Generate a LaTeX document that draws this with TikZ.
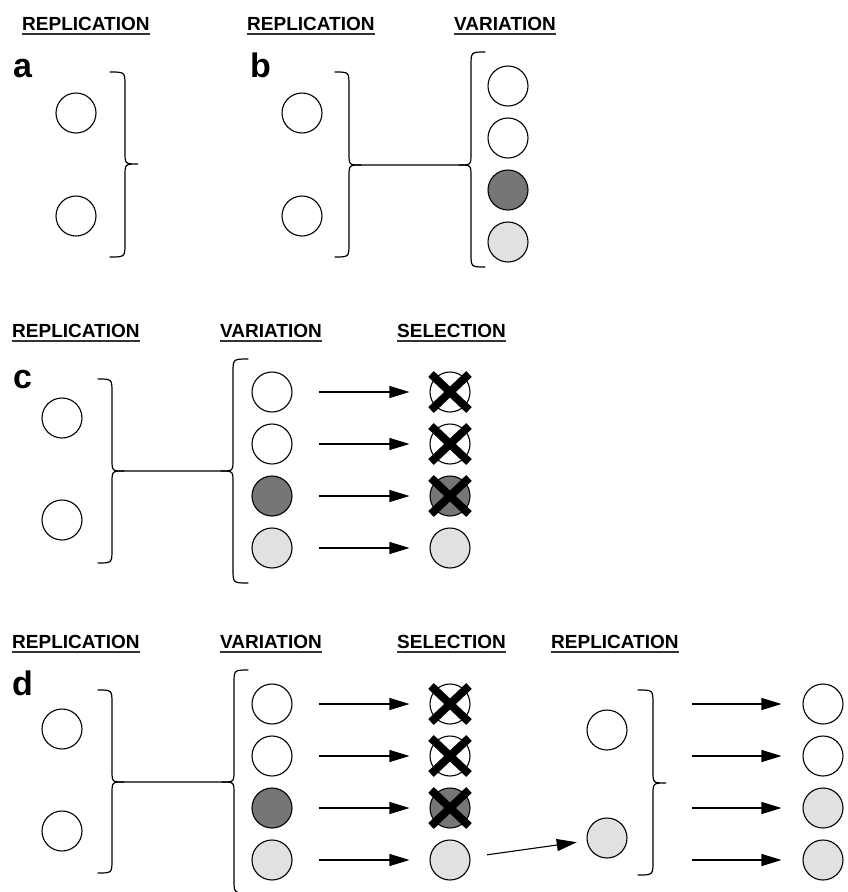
\documentclass[tikz,border=0pt]{standalone}
\usepackage{fontspec}
\setmainfont{Liberation Sans}
\usetikzlibrary{arrows.meta,positioning}
\definecolor{MutantDark}{RGB}{118,118,118}
\definecolor{MutantLight}{RGB}{225,225,225}

% underlined stage heading: name, position, text
\newcommand{\stagehead}[3]{%
  \node[stagetitle] (#1) at (#2) {#3};
  \draw[titlerule] ([yshift=-3.8pt]#1.base west) -- ([yshift=-3.8pt]#1.base east);}

% closing brace: tip x, spine x, cusp x, top y, mid y, bottom y
\newcommand{\closebrace}[6]{%
  \draw[bracket] (#1,#4) .. controls (#2,#4) .. (#2,#4+14) -- (#2,#5-12)
    .. controls (#2,#5) .. (#3,#5) .. controls (#2,#5) .. (#2,#5+12)
    -- (#2,#6-14) .. controls (#2,#6) .. (#1,#6);}

% closing brace joined to an opening brace
\newcommand{\linkbraces}[9]{%
  \draw[bracket] (#1,#5) .. controls (#2,#5) .. (#2,#5+14) -- (#2,#7-12)
    .. controls (#2,#7) .. (#2+12,#7) -- (#3-12,#7) .. controls (#3,#7) .. (#3,#7-12)
    -- (#3,#8+14) .. controls (#3,#8) .. (#4,#8);
  \draw[bracket] (#2+12,#7) .. controls (#2,#7) .. (#2,#7+12) -- (#2,#6-14)
    .. controls (#2,#6) .. (#1,#6);
  \draw[bracket] (#3-12,#7) .. controls (#3,#7) .. (#3,#7+12) -- (#3,#9-14)
    .. controls (#3,#9) .. (#4,#9);}

% strike a cell out
\newcommand{\knockout}[1]{%
  \draw[kill] ([shift={(-19,-18)}]#1.center) -- ([shift={(19,18)}]#1.center);
  \draw[kill] ([shift={(-19,18)}]#1.center) -- ([shift={(19,-18)}]#1.center);}

\begin{document}
\begin{tikzpicture}[
    x=1pt, y=-1pt,
    stagetitle/.style={font=\bfseries\fontsize{19}{22}\selectfont, anchor=base west, inner sep=0pt},
    titlerule/.style={line width=1.4pt, color=black!80},
    panellabel/.style={font=\bfseries\fontsize{34}{40}\selectfont, anchor=base west, inner sep=0pt},
    cell/.style={circle, draw, line width=1.1pt, minimum size=40pt, inner sep=0pt},
    plaincell/.style={cell, fill=white},
    darkcell/.style={cell, fill=MutantDark},
    lightcell/.style={cell, fill=MutantLight},
    bracket/.style={line width=1.2pt, line cap=round},
    kill/.style={line width=8pt},
    arrow/.style={-{Triangle[length=20pt,width=12pt]}, line width=1.1pt}
]
\useasboundingbox (0,0) rectangle (848,892);

% === PANEL A ===
\node[panellabel] (a-tag) at (13,77) {a};
\stagehead{a-rep}{22,30}{REPLICATION}

\node[plaincell] (a-p1) at (76,113) {};
\node[plaincell] (a-p2) at (76,216) {};
\closebrace{110}{125}{138}{72}{164}{257}

% === PANEL B ===
\node[panellabel] (b-tag) at (250,77) {b};
\stagehead{b-rep}{247,30}{REPLICATION}
\stagehead{b-var}{454,30}{VARIATION}

\node[plaincell] (b-p1) at (302,113) {};
\node[plaincell] (b-p2) at (302,216) {};
\linkbraces{335}{349}{471}{485}{72}{257}{165}{52}{267}

\node[plaincell] (b-v1) at (508,86) {};
\node[plaincell] (b-v2) at (508,138) {};
\node[darkcell] (b-v3) at (508,190) {};
\node[lightcell] (b-v4) at (508,242) {};

% === PANEL C ===
\node[panellabel] (c-tag) at (13,388) {c};
\stagehead{c-rep}{12,337}{REPLICATION}
\stagehead{c-var}{220,337}{VARIATION}
\stagehead{c-sel}{397,337}{SELECTION}

\node[plaincell] (c-p1) at (62,418) {};
\node[plaincell] (c-p2) at (62,520) {};
\linkbraces{98}{112}{233}{248}{379}{563}{471}{359}{583}

\node[plaincell] (c-v1) at (272,392) {};
\node[plaincell] (c-v2) at (272,444) {};
\node[darkcell] (c-v3) at (272,496) {};
\node[lightcell] (c-v4) at (272,548) {};

\node[plaincell] (c-s1) at (450,392) {};
\node[plaincell] (c-s2) at (450,444) {};
\node[darkcell] (c-s3) at (450,496) {};
\node[lightcell] (c-s4) at (450,548) {};

\foreach \i in {1,...,4}
  \draw[arrow, shorten <=26pt, shorten >=20pt] (c-v\i) -- (c-s\i);
\knockout{c-s1}
\knockout{c-s2}
\knockout{c-s3}

% === PANEL D ===
\node[panellabel] (d-tag) at (12,695) {d};
\stagehead{d-rep}{12,648}{REPLICATION}
\stagehead{d-var}{220,648}{VARIATION}
\stagehead{d-sel}{397,648}{SELECTION}
\stagehead{d-rep2}{551,648}{REPLICATION}

\node[plaincell] (d-p1) at (62,729) {};
\node[plaincell] (d-p2) at (62,831) {};
\linkbraces{98}{112}{234}{248}{690}{873}{782}{670}{893}

\node[plaincell] (d-v1) at (272,704) {};
\node[plaincell] (d-v2) at (272,756) {};
\node[darkcell] (d-v3) at (272,808) {};
\node[lightcell] (d-v4) at (272,860) {};

\node[plaincell] (d-s1) at (450,704) {};
\node[plaincell] (d-s2) at (450,756) {};
\node[darkcell] (d-s3) at (450,808) {};
\node[lightcell] (d-s4) at (450,860) {};

\foreach \i in {1,...,4}
  \draw[arrow, shorten <=26pt, shorten >=20pt] (d-v\i) -- (d-s\i);
\knockout{d-s1}
\knockout{d-s2}
\knockout{d-s3}

% survivor replicates
\node[plaincell] (d-r1) at (607,730) {};
\node[lightcell] (d-r2) at (607,838) {};
\draw[arrow, shorten <=17pt, shorten >=10pt] (d-s4) -- (d-r2);
\closebrace{638}{653}{666}{690}{783}{875}

\coordinate (d-o1) at (692,704);
\coordinate (d-o2) at (692,756);
\coordinate (d-o3) at (692,808);
\coordinate (d-o4) at (692,860);

\node[plaincell] (d-f1) at (823,704) {};
\node[plaincell] (d-f2) at (823,756) {};
\node[lightcell] (d-f3) at (823,808) {};
\node[lightcell] (d-f4) at (823,860) {};

\foreach \i in {1,...,4}
  \draw[arrow, shorten >=21pt] (d-o\i) -- (d-f\i);

\end{tikzpicture}
\end{document}
